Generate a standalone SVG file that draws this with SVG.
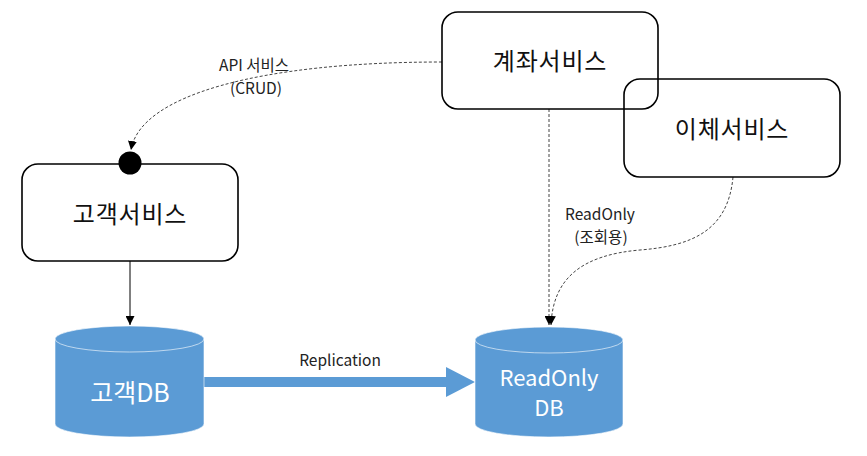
<svg xmlns="http://www.w3.org/2000/svg" width="867" height="456" viewBox="0 0 867 456">
<style>
.box{fill:none;stroke:#000;stroke-width:1.6}
.nt{font-family:"Noto Sans CJK KR","Noto Sans",sans-serif;font-size:24px;letter-spacing:0.8px;fill:#111;text-anchor:middle}
.lbl{font-family:"Noto Sans CJK KR","Noto Sans",sans-serif;font-size:15.5px;fill:#222;text-anchor:middle}
.db{fill:#5B9BD5;stroke:#ffffff;stroke-opacity:0.6;stroke-width:1}
.dbt{font-family:"Noto Sans CJK KR","Noto Sans",sans-serif;font-size:22px;fill:#fff;text-anchor:middle}
.dash{fill:none;stroke:#444;stroke-width:1;stroke-dasharray:3,2}
</style>
<defs>
<marker id="ah" viewBox="0 0 10 10" refX="10" refY="5" markerWidth="9" markerHeight="9" markerUnits="userSpaceOnUse" orient="auto">
<path d="M0,0 L10,5 L0,10 z" fill="#000"/>
</marker>
</defs>
<g id="connectors">
<path class="dash" d="M442,62 C260,62 140,95 131,150" marker-end="url(#ah)"/>
<line x1="130" y1="261" x2="130" y2="325" stroke="#000" stroke-width="1" marker-end="url(#ah)"/>
<line class="dash" x1="549" y1="109" x2="549" y2="325" stroke="#000" marker-end="url(#ah)"/>
<path class="dash" d="M733,177 C728,232 690,246 640,250 C582,255 553,278 551,325" marker-end="url(#ah)"/>
<rect x="204" y="377" width="244" height="10" fill="#5B9BD5"/>
<polygon points="446,367 475,382 446,397" fill="#5B9BD5"/>
<text class="lbl" x="254" y="71">API 서비스</text>
<text class="lbl" x="256" y="94">(CRUD)</text>
<text class="lbl" x="600" y="220">ReadOnly</text>
<text class="lbl" x="601" y="243">(조회용)</text>
<text class="lbl" x="340" y="366">Replication</text>
</g>
<g id="account">
<rect class="box" x="442" y="12" width="216" height="97" rx="16"/>
<text class="nt" x="550" y="70">계좌서비스</text>
</g>
<g id="transfer">
<rect class="box" x="624" y="79" width="216" height="98" rx="16"/>
<text class="nt" x="732" y="138">이체서비스</text>
</g>
<g id="customer">
<rect class="box" x="22" y="164" width="216" height="97" rx="16"/>
<circle cx="130" cy="163" r="11.5" fill="#000"/>
<text class="nt" x="130" y="223">고객서비스</text>
</g>
<g id="customerdb">
<path class="db" d="M55,339 A74.5,13 0 0 1 204,339 L204,424 A74.5,13 0 0 1 55,424 Z"/>
<path d="M55,339 A74.5,13 0 0 0 204,339" fill="none" stroke="#fff" stroke-opacity="0.6" stroke-width="1"/>
<text class="dbt" x="130" y="402" style="font-size:25px">고객DB</text>
</g>
<g id="readonlydb">
<path class="db" d="M475,340 A74,13 0 0 1 623,340 L623,424 A74,13 0 0 1 475,424 Z"/>
<path d="M475,340 A74,13 0 0 0 623,340" fill="none" stroke="#fff" stroke-opacity="0.6" stroke-width="1"/>
<text class="dbt" x="549" y="386">ReadOnly</text>
<text class="dbt" x="549" y="416">DB</text>
</g>
</svg>
